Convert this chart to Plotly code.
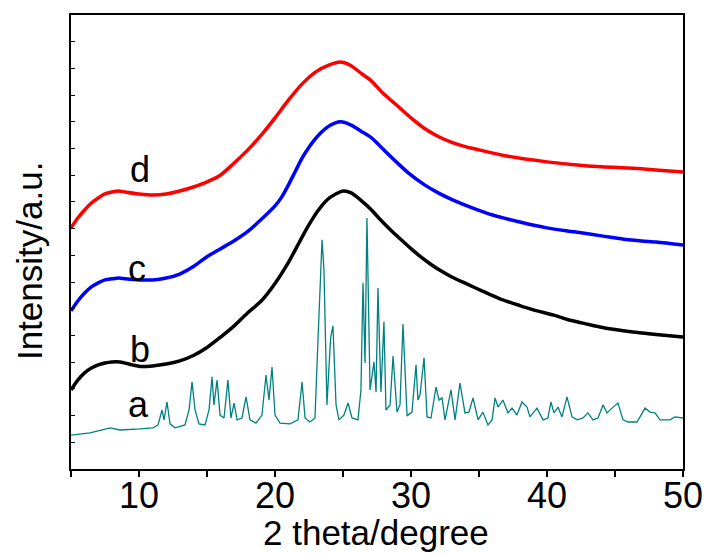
import plotly.graph_objects as go

# ---- data ----
d_x = [5, 5.5, 6, 6.5, 7, 7.5, 8, 8.5, 9, 10, 11, 12, 13, 14, 15, 16, 17, 18, 19, 20, 21, 22, 23, 24,
       24.8, 25.5, 26.4, 27, 28, 29, 30, 31, 32, 33, 34, 35, 37, 40, 43, 46, 48, 50]
d_y = [9.03, 9.40, 9.70, 9.96, 10.15, 10.30, 10.37, 10.41, 10.37, 10.30, 10.26, 10.30, 10.41, 10.56,
       10.75, 11.01, 11.46, 11.95, 12.51, 13.15, 13.82, 14.42, 14.87, 15.13, 15.24, 15.13, 14.79, 14.57,
       14.04, 13.60, 13.15, 12.75, 12.45, 12.23, 12.07, 11.95, 11.72, 11.50, 11.35, 11.27, 11.20, 11.12]

c_x = [5, 5.5, 6, 6.5, 7, 7.5, 8, 8.5, 9, 10, 11, 12, 13, 14, 15, 16, 17, 18, 19, 20, 20.5, 21, 21.5,
       22, 22.5, 23.3, 24, 24.8, 25.6, 26.3, 27.1, 28, 29, 29.8, 31, 32, 33.1, 34.5, 36, 38, 40, 42,
       44, 46, 48, 50]
c_y = [5.92, 6.29, 6.59, 6.82, 6.97, 7.08, 7.12, 7.15, 7.12, 7.08, 7.08, 7.15, 7.30, 7.58, 7.95, 8.25,
       8.55, 8.90, 9.35, 9.85, 10.19, 10.65, 11.15, 11.65, 12.05, 12.55, 12.85, 13.00, 12.88, 12.66,
       12.40, 11.95, 11.46, 11.09, 10.64, 10.34, 10.07, 9.78, 9.51, 9.25, 9.03, 8.88, 8.73, 8.58, 8.50,
       8.39]

b_x = [5, 5.5, 6, 6.5, 7, 7.5, 8, 8.6, 9.5, 10.1, 11, 12, 13, 14, 15, 16, 17, 18, 19, 20, 21, 21.8,
       22.5, 23.2, 24, 25, 25.6, 26.3, 27.1, 27.7, 28.5, 29.2, 30, 30.7, 31.5, 32.1, 33, 34.1, 35.3,
       36.5, 38, 39, 40.5, 41.5, 43, 43.9, 45, 46.3, 48, 50]
b_y = [2.96, 3.33, 3.60, 3.78, 3.90, 3.97, 4.01, 4.01, 3.90, 3.84, 3.86, 3.93, 4.05, 4.25, 4.55, 4.94,
       5.36, 5.85, 6.30, 6.95, 7.75, 8.50, 9.15, 9.70, 10.15, 10.41, 10.34, 10.07, 9.70, 9.36, 8.95,
       8.62, 8.25, 7.95, 7.65, 7.45, 7.19, 6.93, 6.65, 6.38, 6.12, 5.96, 5.76, 5.60, 5.42, 5.32, 5.22,
       5.13, 5.04, 4.94]

a_x = [5.0, 6.4, 7.87, 8.6, 10.07, 11.03, 11.4, 11.69, 11.84, 12.06, 12.28, 12.65, 13.38, 13.68, 13.9,
       14.12, 14.41, 14.85, 15.15, 15.37, 15.51, 15.74, 15.96, 16.25, 16.54, 16.76, 16.99, 17.21, 17.57,
       17.87, 18.16, 18.6, 19.04, 19.34, 19.56, 19.78, 20.0, 20.37, 21.1, 21.69, 21.99, 22.21, 22.57,
       22.94, 23.16, 23.46, 23.6, 23.82, 24.04, 24.1, 24.26, 24.49, 24.7, 25.07, 25.37, 25.66, 26.1,
       26.32, 26.47, 26.62, 26.76, 26.99, 27.28, 27.43, 27.57, 27.79, 28.01, 28.16, 28.46, 28.68, 28.97,
       29.19, 29.41, 29.71, 30.07, 30.37, 30.51, 30.66, 30.96, 31.18, 31.47, 31.84, 32.06, 32.28, 32.5,
       32.94, 33.24, 33.6, 33.97, 34.26, 34.56, 34.93, 35.29, 35.66, 35.96, 36.18, 36.4, 36.76, 37.13,
       37.43, 37.79, 38.16, 38.53, 38.75, 39.26, 39.71, 40.07, 40.29, 40.51, 40.81, 41.1, 41.47, 41.84,
       42.21, 42.65, 43.01, 43.38, 43.75, 44.12, 44.41, 44.78, 45.22, 45.59, 45.96, 46.62, 46.91, 47.21,
       47.57, 47.94, 48.31, 49.04, 49.41, 50.0]
a_y = [1.27, 1.35, 1.54, 1.46, 1.50, 1.54, 1.65, 2.21, 1.84, 2.51, 1.69, 1.54, 1.65, 2.21, 3.26, 2.21,
       1.69, 1.65, 2.21, 3.45, 2.40, 3.33, 2.02, 1.91, 3.33, 1.91, 2.47, 1.84, 1.91, 2.70, 1.84, 1.72,
       2.02, 3.52, 2.58, 3.82, 2.02, 1.72, 1.69, 1.84, 3.26, 1.91, 1.76, 1.91, 4.83, 8.58, 7.45, 2.40,
       4.46, 4.94, 5.36, 2.40, 1.84, 2.02, 2.47, 1.91, 1.84, 2.96, 6.97, 3.97, 9.40, 2.96, 4.01, 2.88,
       6.78, 2.88, 5.51, 2.21, 2.40, 4.23, 2.13, 2.40, 5.43, 1.99, 2.13, 3.90, 2.58, 2.77, 4.16, 1.95,
       1.91, 3.07, 2.58, 2.66, 1.84, 2.96, 1.84, 3.22, 2.10, 2.13, 2.66, 1.84, 2.13, 1.65, 1.84, 2.66,
       2.32, 2.58, 2.10, 2.28, 2.02, 2.51, 2.32, 1.95, 2.28, 1.84, 1.91, 2.51, 2.10, 2.32, 1.95, 2.70,
       1.95, 1.84, 1.91, 2.10, 1.84, 1.91, 2.40, 2.10, 2.28, 2.47, 1.84, 1.76, 1.76, 2.02, 2.28, 2.13,
       2.10, 1.84, 1.84, 1.95, 1.91]

curve_labels = ["a", "b", "c", "d"]
label_x = [9.93, 10.07, 9.85, 10.07]
label_y = [2.40, 4.46, 7.49, 11.2]

x_tickvals = [5, 10, 15, 20, 25, 30, 35, 40, 45, 50]
x_ticktext = ["", "10", "", "20", "", "30", "", "40", "", "50"]

x_title = "2 theta/degree"
y_title = "Intensity/a.u."

FONT = "Liberation Sans, Arial, sans-serif"

fig = go.Figure()
fig.add_trace(go.Scatter(x=a_x, y=a_y, mode="lines", line=dict(color="#008080", width=1.3)))
fig.add_trace(go.Scatter(x=b_x, y=b_y, mode="lines", line=dict(color="#000000", width=3.5, shape="spline", smoothing=0.8)))
fig.add_trace(go.Scatter(x=c_x, y=c_y, mode="lines", line=dict(color="#0000FF", width=3.5, shape="spline", smoothing=0.8)))
fig.add_trace(go.Scatter(x=d_x, y=d_y, mode="lines", line=dict(color="#FF0000", width=3.5, shape="spline", smoothing=0.8)))

for t, lx, ly in zip(curve_labels, label_x, label_y):
    fig.add_annotation(x=lx, y=ly, text=t, showarrow=False, xanchor="center", yanchor="middle",
                       font=dict(family=FONT, size=36, color="black"))

# axis titles
fig.add_annotation(xref="paper", yref="paper", x=0.498, y=0, yshift=-63, text=x_title,
                   showarrow=False, xanchor="center", yanchor="middle",
                   font=dict(family=FONT, size=35, color="black"))
fig.add_annotation(xref="paper", yref="paper", x=0, xshift=-42, y=0.458, text=y_title,
                   textangle=-90, showarrow=False, xanchor="center", yanchor="middle",
                   font=dict(family=FONT, size=35, color="black"))

fig.update_layout(
    width=707, height=554,
    margin=dict(l=71, r=24, t=15, b=85),
    paper_bgcolor="white", plot_bgcolor="white",
    showlegend=False,
    font=dict(family=FONT, size=35, color="black"),
)
fig.update_xaxes(
    range=[5, 50], tickmode="array", tickvals=x_tickvals, ticktext=x_ticktext,
    ticks="outside", ticklen=6, tickwidth=1.5, tickcolor="black",
    showline=True, linecolor="black", linewidth=2, mirror=True,
    showgrid=False, zeroline=False, automargin=False,
    tickfont=dict(family=FONT, size=36), ticklabelstandoff=-12,
)
fig.update_yaxes(
    range=[0, 17], tickmode="linear", tick0=0, dtick=1,
    ticks="inside", ticklen=4, tickwidth=1.2, tickcolor="black",
    showticklabels=False, automargin=False,
    showline=True, linecolor="black", linewidth=2, mirror=True,
    showgrid=False, zeroline=False,
)

fig.write_html("out.html", config={"displayModeBar": False},
               post_script="document.body.style.margin='0';document.body.style.overflow='hidden';")
